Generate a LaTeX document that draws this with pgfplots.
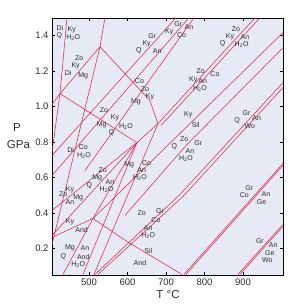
\documentclass[border=0pt]{standalone}
\usepackage{fontspec}
\setmainfont{Liberation Sans}
\usepackage{pgfplots}
\pgfplotsset{compat=1.18}
\definecolor{bgc}{RGB}{230,233,246}
\definecolor{rl}{RGB}{224,40,72}
\definecolor{txt}{RGB}{45,45,45}
\tikzset{lbl/.style={font=\fontsize{7}{8}\selectfont, text=txt, inner sep=0pt}}
\pgfplotsset{ln/.style={rl, line width=0.55pt, mark=none}}
\newcommand{\lb}[3]{\node[lbl] at (axis cs:#1,#2) {#3};}
\newcommand{\HO}{H\textsubscript{2}O}
\begin{document}
\begin{tikzpicture}[x=1pt,y=1pt]
\path (-52,-33) rectangle (248,275);
\begin{axis}[
  at={(0,0)}, anchor=south west,
  scale only axis, width=231pt, height=257pt,
  xmin=404, xmax=1004, ymin=0.05, ymax=1.5,
  xtick={500,600,700,800,900},
  ytick={0.2,0.4,0.6,0.8,1.0,1.2,1.4},
  yticklabel style={/pgf/number format/fixed,/pgf/number format/precision=1,/pgf/number format/fixed zerofill},
  /pgf/number format/assume math mode=true,
  ticklabel style={font=\fontsize{9.5}{11}\selectfont, text=txt},
  tick style={black, line width=0.5pt},
  major tick length=3pt,
  axis line style={black, line width=0.8pt},
  axis background/.style={fill=bgc},
  clip=true,
]
% left cluster
\addplot[ln] coordinates {(442.9,1.501) (424.7,1.073)};
\addplot[ln] coordinates {(424.7,1.073) (404,1.011)};
\addplot[ln] coordinates {(424.7,1.073) (528.6,1.338)};
\addplot[ln] coordinates {(528.6,1.338) (541.5,1.501)};
\addplot[ln] coordinates {(424.7,1.073) (624.6,0.797)};
\addplot[ln] coordinates {(528.6,1.338) (658.4,1.034) (679.2,0.904)};
\addplot[ln] coordinates {(528.6,1.338) (404,0.222)};
\addplot[ln] coordinates {(424.7,1.073) (404,0.741)};
% upper diagonals
\addplot[ln] coordinates {(404,0.724) (725.9,1.501)};
\addplot[ln] coordinates {(404,0.611) (759.7,1.501)};
\addplot[ln] coordinates {(489.6,0.639) (772.7,1.501)};
% invariant point J2 lines
\addplot[ln] coordinates {(624.6,0.797) (404,0.414)};
\addplot[ln] coordinates {(624.6,0.797) (404,0.273)};
\addplot[ln] coordinates {(510.4,0.369) (624.6,0.797)};
\addplot[ln] coordinates {(432.5,0.053) (510.4,0.369)};
\addplot[ln] coordinates {(484.4,0.053) (624.6,0.797)};
\addplot[ln] coordinates {(624.6,0.797) (679.2,0.904)};
% Al2SiO5
\addplot[ln] coordinates {(510.4,0.369) (404,0.262)};
\addplot[ln] coordinates {(510.4,0.369) (598.7,0.239) (741.5,0.053)};
\addplot[ln] coordinates {(510.4,0.369) (1003.8,1.417)};
% pair from J3
\addplot[ln] coordinates {(679.2,0.904) (931.1,1.501)};
\addplot[ln] coordinates {(687.0,0.893) (944.1,1.501)};
\addplot[ln] coordinates {(679.2,0.904) (513.0,0.053)};
% middle diagonals
\addplot[ln] coordinates {(593.5,0.386) (751.9,0.780) (1003.8,1.332)};
\addplot[ln] coordinates {(515.6,0.053) (736.3,0.504) (1003.8,1.135)};
\addplot[ln] coordinates {(523.4,0.053) (744.1,0.493) (1003.8,1.107)};
% lower right
\addplot[ln] coordinates {(746.7,0.053) (1003.8,0.679)};
\addplot[ln] coordinates {(751.9,0.053) (1003.8,0.668)};
\addplot[ln] coordinates {(887.0,0.053) (1003.8,0.335)};
\addplot[ln] coordinates {(892.1,0.053) (1003.8,0.324)};
% labels
\lb{424.7}{1.443}{Di}\lb{455.1}{1.434}{Ky}\lb{422.9}{1.402}{Q}\lb{459.2}{1.390}{\HO}
\lb{474.8}{1.274}{Zo}\lb{465.4}{1.233}{Ky}\lb{446.2}{1.190}{Di}\lb{485.2}{1.171}{Mg}
\lb{664.4}{1.396}{Gr}\lb{649.8}{1.353}{Ky}\lb{629.8}{1.315}{Q}\lb{677.4}{1.315}{An}
\lb{631.1}{1.143}{Co}\lb{645.4}{1.101}{Zo}\lb{658.4}{1.058}{Ky}\lb{622.0}{1.026}{Mg}
\lb{538.9}{0.979}{Zo}\lb{567.5}{0.936}{Ky}\lb{596.1}{0.890}{\HO}\lb{533.0}{0.899}{Mg}\lb{558.9}{0.855}{Q}
\lb{452.5}{0.758}{Di}\lb{485.2}{0.771}{Co}\lb{487.0}{0.726}{\HO}
\lb{731.9}{1.468}{Gr}\lb{759.7}{1.449}{An}\lb{708.5}{1.424}{Ky}\lb{740.7}{1.406}{Co}
\lb{881.7}{1.438}{Zo}\lb{866.2}{1.396}{Ky}\lb{905.1}{1.393}{An}\lb{847.2}{1.355}{Q}\lb{896.5}{1.349}{\HO}
\lb{790.1}{1.203}{Zo}\lb{827.2}{1.186}{Co}\lb{770.9}{1.152}{Ky}\lb{795.3}{1.143}{An}\lb{788.3}{1.100}{\HO}
\lb{757.9}{0.955}{Ky}\lb{777.1}{0.899}{Sil}
\lb{909.5}{0.964}{Gr}\lb{935.5}{0.936}{An}\lb{885.1}{0.923}{Q}\lb{918.1}{0.889}{Wo}
\lb{747.5}{0.818}{Zo}\lb{783.8}{0.793}{Gr}\lb{721.5}{0.771}{Q}\lb{762.3}{0.748}{An}\lb{751.9}{0.705}{\HO}
\lb{916.3}{0.542}{Gr}\lb{903.3}{0.499}{Co}\lb{959.6}{0.504}{An}\lb{948.5}{0.461}{Ge}
\lb{944.1}{0.239}{Gr}\lb{978.6}{0.217}{An}\lb{970.0}{0.175}{Ge}\lb{963.0}{0.132}{Wo}
\lb{636.8}{0.399}{Zo}\lb{684.4}{0.408}{Gr}\lb{674.0}{0.362}{Co}\lb{654.0}{0.314}{An}\lb{654.0}{0.271}{\HO}
\lb{654.0}{0.183}{Sil}\lb{632.4}{0.117}{And}
\lb{450.6}{0.352}{Ky}\lb{481.0}{0.305}{And}
\lb{450.6}{0.202}{Mg}\lb{489.6}{0.202}{An}\lb{433.2}{0.155}{Q}\lb{485.2}{0.151}{And}\lb{472.2}{0.108}{\HO}
\lb{450.6}{0.532}{Ky}\lb{433.2}{0.504}{Zo}\lb{472.2}{0.486}{Mg}\lb{450.6}{0.463}{An}
\lb{535.6}{0.641}{Zo}\lb{521.5}{0.598}{Mg}\lb{554.5}{0.576}{An}\lb{500.8}{0.555}{Q}\lb{545.9}{0.532}{\HO}
\lb{604.6}{0.673}{Mg}\lb{649.8}{0.683}{Co}\lb{636.8}{0.641}{An}\lb{632.4}{0.602}{\HO}
\end{axis}
\node[font=\fontsize{11.5}{13}\selectfont, text=txt] at (-35,147) {P};
\node[font=\fontsize{11.5}{13}\selectfont, text=txt] at (-33.5,130) {GPa};
\node[font=\fontsize{11.5}{13}\selectfont, text=txt] at (116,-20) {T \textdegree C};
\end{tikzpicture}
\end{document}
